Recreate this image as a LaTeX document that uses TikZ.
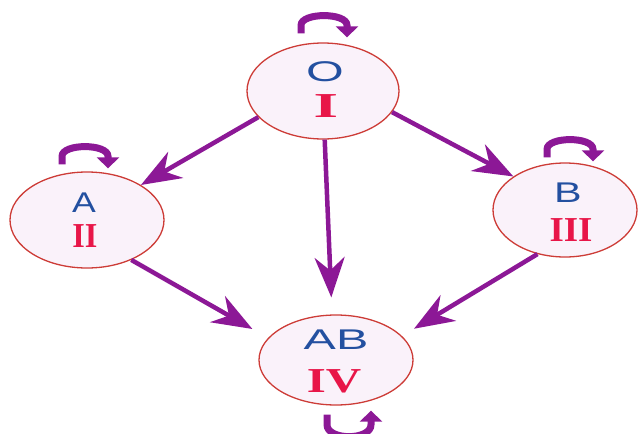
\documentclass[tikz,border=0pt]{standalone}
\usepackage{fontspec}
\usetikzlibrary{shapes.geometric,arrows.meta}
\newfontfamily\typefont{Liberation Sans}
\newfontfamily\romanfont{Liberation Serif}
\definecolor{loopviolet}{RGB}{140,24,150}
\definecolor{rimred}{RGB}{205,60,55}
\definecolor{fillpink}{RGB}{250,242,250}
\definecolor{typeblue}{RGB}{35,80,160}
\definecolor{numred}{RGB}{232,22,72}

\begin{document}
\begin{tikzpicture}[x=1pt, y=-1pt,
    typelabel/.style={inner sep=0pt, text=typeblue, font=\typefont\fontsize{28.5}{30}\selectfont},
    grouplabel/.style={inner sep=0pt, text=numred, font=\romanfont\bfseries\fontsize{35}{40}\selectfont},
    selfloop/.style={draw=loopviolet, line width=7pt, -{Triangle[length=11pt, width=22pt]}}]
    \clip (0,0) rectangle (638,434);

    \begin{scope}[every node/.style={ellipse, draw=rimred, fill=fillpink, line width=1.3pt, inner sep=0pt}]
        \node[minimum width=152pt, minimum height=96pt] (O) at (323,91) {};
        \node[minimum width=154pt, minimum height=96pt] (A) at (87,220) {};
        \node[minimum width=144pt, minimum height=94pt] (B) at (565,210) {};
        \node[minimum width=154pt, minimum height=90pt] (AB) at (336,360) {};
    \end{scope}

    \node[typelabel] (O-type) at ([shift={(2,-19)}]O.center) {\scalebox{1.7}[1]{O}};
    \node[grouplabel] (O-group) at ([shift={(3,15.5)}]O.center) {\scalebox{1.8}[1]{I}};
    \node[typelabel] (A-type) at ([shift={(-3,-17.5)}]A.center) {\scalebox{1.25}[1]{A}};
    \node[grouplabel] (A-group) at ([shift={(-2,16.5)}]A.center) {\scalebox{0.92}[1]{II}};
    \node[typelabel] (B-type) at ([shift={(3,-17.5)}]B.center) {\scalebox{1.45}[1]{B}};
    \node[grouplabel] (B-group) at ([shift={(6,20.5)}]B.center) {\scalebox{1.05}[1]{III}};
    \node[typelabel] (AB-type) at ([shift={(0,-20)}]AB.center) {\scalebox{1.7}[1]{AB}};
    \node[grouplabel] (AB-group) at ([shift={(-2,21.5)}]AB.center) {\scalebox{1.4}[1]{IV}};

    \begin{scope}[every edge/.style={draw=loopviolet, line width=4.5pt, -{Stealth[length=40pt, width=30pt, inset=13pt]}}]
        \path (O.202) edge (A.33);
        \path (O.343) edge (B.147);
        \path (O.272) edge[shorten >=17pt] (AB.95);
        \path (A.318) edge[shorten >=18pt] (AB.162);
        \path (B.238) edge[shorten >=14pt] (AB.20);
    \end{scope}

    % inheritance to itself
    \foreach \n/\dx/\dy in {O/-22/-9, A/-25/-7, B/-18/-5}
        \draw[selfloop] ([shift={(\dx,\dy)}]\n.north) -- ++(0,-8) .. controls +(0,-13) and +(0,-13) .. ++(46,0) -- ++(0,12);
    \draw[selfloop] ([shift={(-9,9)}]AB.south) -- ++(0,10) .. controls +(0,16) and +(0,16) .. ++(44,0) -- ++(0,-14);
\end{tikzpicture}
\end{document}
